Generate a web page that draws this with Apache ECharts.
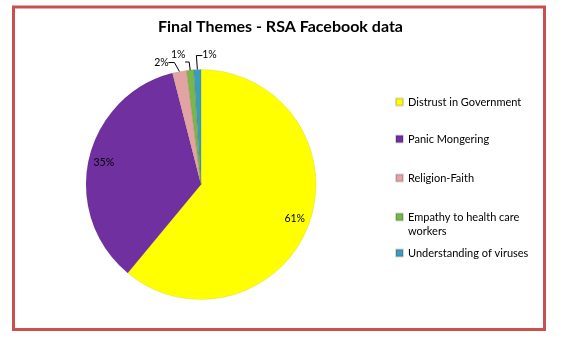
<!DOCTYPE html>
<html>
<head>
<meta charset="utf-8">
<script src="https://cdn.jsdelivr.net/npm/echarts@6/dist/echarts.min.js"></script>
<style>
html,body{margin:0;padding:0;background:#fff;}
#chart{width:564px;height:339px;}
</style>
</head>
<body>
<div id="chart"></div>
<script>
var categories = ['Distrust in Government', 'Panic Mongering', 'Religion-Faith', 'Empathy to health care workers', 'Understanding of viruses'];
var values = [61, 35, 2, 1, 1];
var colors = ['#FFFF00', '#7030A0', '#E3A3A3', '#7AB648', '#3C9CC0'];
var legendLabels = ['Distrust in Government', 'Panic Mongering', 'Religion-Faith', ' \nEmpathy to health care\nworkers', 'Understanding of viruses'];

var FONT = 'Lato';
var CX = 201, CY = 184.5, R = 115;

// leader-line styling for the small outside labels: [elbow dx, elbow dy, end dx, label dx, label dy]
var leaderStyle = {
  2: { ex: -5, ey: -9, tx: -11, lx: -18, ly: -9 },
  3: { ex: -1, ey: -8, tx: -5, lx: -12, ly: -15 },
  4: { ex: -1, ey: -14, tx: 5, lx: 12, ly: -15 }
};

var mainData = categories.map(function (c, i) {
  var small = values[i] < 5;
  return {
    name: c,
    value: values[i],
    itemStyle: { color: colors[i] },
    label: { show: small },
    labelLine: { show: small }
  };
});
var overlayData = categories.map(function (c, i) {
  return {
    name: c,
    value: values[i],
    itemStyle: { color: 'rgba(0,0,0,0)' },
    label: { show: values[i] >= 5 }
  };
});

var legendTops = [95, 132, 171, 196, 246];
var legends = categories.map(function (c, i) {
  return {
    data: [c],
    orient: 'vertical',
    left: 395,
    top: legendTops[i],
    padding: 0,
    icon: 'rect',
    itemWidth: 7,
    itemHeight: 7,
    selectedMode: false,
    formatter: function () { return legendLabels[i]; },
    textStyle: { fontFamily: FONT, fontSize: 11, color: '#000', lineHeight: 14 }
  };
});

var chart = echarts.init(document.getElementById('chart'), null, { renderer: 'canvas' });
chart.setOption({
  animation: false,
  backgroundColor: '#fff',
  title: {
    text: 'Final Themes - RSA Facebook data',
    left: 158,
    top: 19,
    padding: 0,
    textStyle: { fontFamily: FONT, fontSize: 16, fontWeight: 'bold', color: '#000' }
  },
  legend: legends,
  graphic: [{
    type: 'rect',
    shape: { x: 13.5, y: 7, width: 531, height: 322.5 },
    style: { fill: 'none', stroke: '#C9504F', lineWidth: 3 },
    silent: true
  }],
  series: [{
    type: 'pie',
    center: [CX, CY],
    radius: [0, R],
    startAngle: 90,
    clockwise: true,
    silent: true,
    avoidLabelOverlap: false,
    data: mainData,
    itemStyle: { borderColor: 'rgba(0,0,0,0.15)', borderWidth: 0.5 },
    label: {
      position: 'outside',
      formatter: '{d}%',
      fontFamily: FONT, fontSize: 10.5, color: '#000'
    },
    labelLine: { length: 7, length2: 5, lineStyle: { color: '#000', width: 1 } },
    labelLayout: function (p) {
      var s = leaderStyle[p.dataIndex];
      if (!s || !p.labelLinePoints) return {};
      var a = p.labelLinePoints[0];
      var ax = a[0], ay = a[1];
      return {
        x: ax + s.lx,
        y: ay + s.ly,
        align: 'center',
        verticalAlign: 'middle',
        hideOverlap: false,
        moveOverlap: null,
        labelLinePoints: [[ax, ay], [ax + s.ex, ay + s.ey], [ax + s.tx, ay + s.ey]]
      };
    }
  }, {
    type: 'pie',
    center: [CX, CY],
    radius: [0, R * 1.68],
    startAngle: 90,
    clockwise: true,
    silent: true,
    data: overlayData,
    label: {
      position: 'inside',
      formatter: '{d}%',
      fontFamily: FONT, fontSize: 10.5, color: '#000'
    },
    labelLine: { show: false },
    emphasis: { disabled: true }
  }]
});
</script>
</body>
</html>
